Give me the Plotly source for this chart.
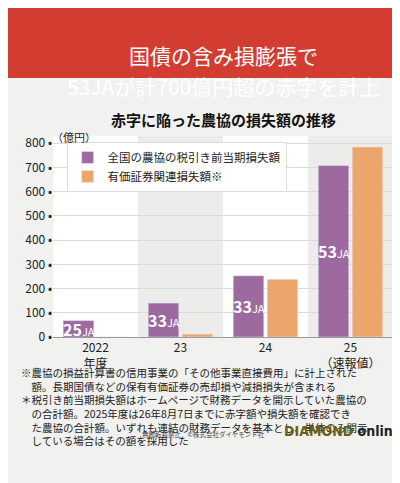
import plotly.graph_objects as go

categories = ["2022<br>年度", "23", "24", "25<br>（速報値）"]
pretax_loss = [68, 140, 253, 708]
securities_loss = [0, 12, 238, 785]
ja_counts = ["25", "33", "33", "53"]
y_ticks = [0, 100, 200, 300, 400, 500, 600, 700, 800]

FONT = "Noto Sans CJK JP"
PURPLE = "#9d6a9f"
ORANGE = "#eca66c"
BG = "#f1f1f0"

xs = list(range(len(categories)))
fig = go.Figure()
fig.add_bar(x=xs, y=pretax_loss, name="全国の農協の税引き前当期損失額", marker_color=PURPLE)
fig.add_bar(x=xs, y=securities_loss, name="有価証券関連損失額※", marker_color=ORANGE)

shapes = []
for i in xs:
    if i % 2 == 1:
        shapes.append(dict(type="rect", xref="x", yref="paper", x0=i - 0.5, x1=i + 0.5,
                           y0=0, y1=1, fillcolor="#ececeb", line_width=0, layer="below"))
# header band (pixel-equivalent: top 0..70)
shapes.append(dict(type="rect", xref="paper", yref="paper", x0=-0.2, x1=1.2,
                   y0=1.288, y1=2.0, fillcolor="#d23c31", line_width=0))

ann = []
for i, (v, n) in enumerate(zip(pretax_loss, ja_counts)):
    ann.append(dict(x=i - 0.2, y=v / 2, xref="x", yref="y", showarrow=False,
                    text=f"<b>{n}</b><span style='font-size:11px'>JA</span>",
                    font=dict(family=FONT, size=16, color="white")))
ann += [
    dict(x=0.5, y=1.49, xref="paper", yref="paper", showarrow=False,
         text="国債の含み損膨張で", font=dict(family=FONT, size=21, color="white")),
    dict(x=0.5, y=1.335, xref="paper", yref="paper", showarrow=False,
         text="53JAが計700億円超の赤字を計上", font=dict(family=FONT, size=21, color="white")),
    dict(x=0.5, y=1.145, xref="paper", yref="paper", showarrow=False,
         text="<b>赤字に陥った農協の損失額の推移</b>", font=dict(family=FONT, size=15, color="#111")),
    dict(x=-0.01, y=1.045, xref="paper", yref="paper", showarrow=False, xanchor="left",
         text="（億円）", font=dict(family=FONT, size=11, color="#222")),
    dict(x=-0.1, y=-0.13, xref="paper", yref="paper", showarrow=False, xanchor="left",
         yanchor="top", align="left",
         text="※農協の損益計算書の信用事業の「その他事業直接費用」に計上された<br>"
              "　額。長期国債などの保有有価証券の売却損や減損損失が含まれる<br>"
              "＊税引き前当期損失額はホームページで財務データを開示していた農協の<br>"
              "　の合計額。2025年度は26年8月7日までに赤字額や損失額を確認でき<br>"
              "　た農協の合計額。いずれも連結の財務データを基本とし、単体のみ開示<br>"
              "　している場合はその額を採用した",
         font=dict(family=FONT, size=10.5, color="#222")),
    dict(x=0.63, y=-0.515, xref="paper", yref="paper", showarrow=False, xanchor="right",
         text="無断転載禁止　©株式会社ダイヤモンド社", font=dict(family=FONT, size=6.5, color="#444")),
    dict(x=1.03, y=-0.515, xref="paper", yref="paper", showarrow=False, xanchor="right",
         text="<span style='color:#6b5d16'><b>DIAMOND</b></span><b> online</b>",
         font=dict(family="DejaVu Sans Condensed", size=14, color="#222")),
]

fig.update_layout(
    width=400, height=483, paper_bgcolor=BG, plot_bgcolor="white",
    margin=dict(l=45, r=15, t=128, b=154, autoexpand=False),
    barmode="group", bargap=0.2, bargroupgap=0.1,
    font=dict(family=FONT, size=12, color="#222"),
    showlegend=True,
    legend=dict(x=0.04, y=0.97, xanchor="left", yanchor="top", bgcolor="white",
                bordercolor="#dddddd", borderwidth=1, font=dict(family=FONT, size=11.5),
                itemwidth=30, tracegroupgap=0),
    xaxis=dict(tickmode="array", tickvals=xs, ticktext=categories, range=[-0.5, 3.5],
               showgrid=False, showline=True, linecolor="#999", ticks="", automargin=False,
               tickfont=dict(family=FONT, size=12)),
    yaxis=dict(tickmode="array", tickvals=y_ticks, ticktext=[f"{t} •" for t in y_ticks],
               range=[0, 830], showgrid=True, gridcolor="#dadada", zeroline=False,
               automargin=False, tickfont=dict(family=FONT, size=12)),
    shapes=shapes, annotations=ann,
)
fig.write_html("out.html")
